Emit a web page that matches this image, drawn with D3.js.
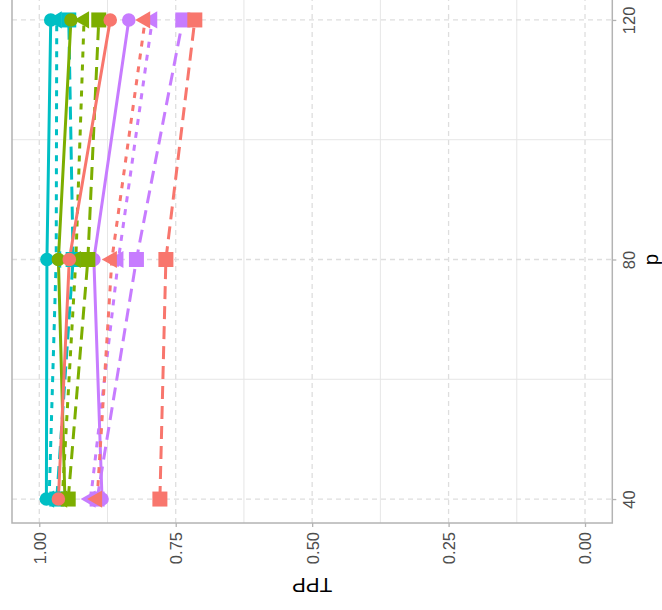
<!DOCTYPE html>
<html>
<head>
<meta charset="utf-8">
<script src="https://cdn.jsdelivr.net/npm/d3@7"></script>
<style>
  html, body { margin: 0; padding: 0; background: #fff; }
  svg { display: block; }
</style>
</head>
<body>
<svg id="chart" width="662" height="610"></svg>
<script>
// ---------------- data ----------------
const pValues = [40, 80, 120];
const tppTicks = [1.00, 0.75, 0.50, 0.25, 0.00];
const tppMinor = [0.875, 0.625, 0.375, 0.125];
const pTicks = [40, 80, 120];
const pMinor = [60, 100];

const methods = ["M1", "M2", "M3", "M4"];           // red, green, cyan, purple
const methodColors = ["#F8766D", "#7CAE00", "#00BFC4", "#C77CFF"];
const settings = ["S1", "S2", "S3"];                 // circle/solid, triangle/dotted, square/dashed

// TPP values at p = 40, 80, 120
const tppM1_S1 = [0.965, 0.945, 0.870];
const tppM1_S2 = [0.894, 0.867, 0.806];
const tppM1_S3 = [0.779, 0.768, 0.715];
const tppM2_S1 = [0.953, 0.965, 0.942];
const tppM2_S2 = [0.958, 0.933, 0.918];
const tppM2_S3 = [0.947, 0.911, 0.891];
const tppM3_S1 = [0.987, 0.986, 0.979];
const tppM3_S2 = [0.982, 0.969, 0.968];
const tppM3_S3 = [0.968, 0.938, 0.946];
const tppM4_S1 = [0.885, 0.900, 0.836];
const tppM4_S2 = [0.906, 0.855, 0.793];
const tppM4_S3 = [0.894, 0.822, 0.737];

const tppTable = {
  M1: [tppM1_S1, tppM1_S2, tppM1_S3],
  M2: [tppM2_S1, tppM2_S2, tppM2_S3],
  M3: [tppM3_S1, tppM3_S2, tppM3_S3],
  M4: [tppM4_S1, tppM4_S2, tppM4_S3]
};

// ---------------- build ----------------
const svg = d3.select("#chart");
const FONT = "'Liberation Sans', Arial, Helvetica, sans-serif";

// chart is a ggplot rotated 90deg counter-clockwise: TPP runs horizontally, p vertically
const x = d3.scaleLinear().domain([1.05, -0.05]).range([12, 612.3]);
const y = d3.scaleLinear().domain([36, 124]).range([523, -4]);

const panel = { x0: 12, x1: 612.3, y0: -4, y1: 523 };

svg.append("defs").append("clipPath").attr("id", "clip")
  .append("rect")
  .attr("x", panel.x0).attr("y", panel.y0)
  .attr("width", panel.x1 - panel.x0).attr("height", panel.y1 - panel.y0);

const grid = svg.append("g");
// minor grid (solid)
grid.selectAll(".minx").data(tppMinor).join("line")
  .attr("x1", d => x(d)).attr("x2", d => x(d))
  .attr("y1", panel.y0).attr("y2", panel.y1)
  .attr("stroke", "#E6E6E6").attr("stroke-width", 1);
grid.selectAll(".miny").data(pMinor).join("line")
  .attr("y1", d => y(d)).attr("y2", d => y(d))
  .attr("x1", panel.x0).attr("x2", panel.x1)
  .attr("stroke", "#E6E6E6").attr("stroke-width", 1);
// major grid (dashed)
grid.selectAll(".majx").data(tppTicks).join("line")
  .attr("x1", d => x(d)).attr("x2", d => x(d))
  .attr("y1", panel.y0).attr("y2", panel.y1)
  .attr("stroke", "#DEDEDE").attr("stroke-width", 1.3)
  .attr("stroke-dasharray", "5,4");
grid.selectAll(".majy").data(pTicks).join("line")
  .attr("y1", d => y(d)).attr("y2", d => y(d))
  .attr("x1", panel.x0).attr("x2", panel.x1)
  .attr("stroke", "#DEDEDE").attr("stroke-width", 1.3)
  .attr("stroke-dasharray", "5,4");

// series
const dashes = [null, "6,7", "13,7"];
const series = [];
methods.forEach((m, mi) => {
  settings.forEach((s, si) => {
    series.push({
      method: m, setting: s, mi, si,
      color: methodColors[mi],
      values: pValues.map((p, k) => ({ p, tpp: tppTable[m][si][k] }))
    });
  });
});
// drawing order: colours reversed (purple, cyan, green, red)
const ordered = series.slice().sort((a, b) => (b.mi - a.mi) || (a.si - b.si));

const plot = svg.append("g").attr("clip-path", "url(#clip)");
const line = d3.line().x(d => x(d.tpp)).y(d => y(d.p));

plot.selectAll(".series-line").data(ordered).join("path")
  .attr("class", "series-line")
  .attr("d", d => line(d.values))
  .attr("fill", "none")
  .attr("stroke", d => d.color)
  .attr("stroke-width", 3)
  .attr("stroke-dasharray", d => dashes[d.si]);

function markerPath(si, cx, cy) {
  if (si === 0) {
    const r = 6.8;
    return `M${cx - r},${cy}a${r},${r} 0 1,0 ${2 * r},0a${r},${r} 0 1,0 ${-2 * r},0Z`;
  } else if (si === 1) {
    // triangle (pointing up in the unrotated chart -> left here)
    return `M${cx - 10},${cy}L${cx + 5},${cy - 8.6}L${cx + 5},${cy + 8.6}Z`;
  } else {
    const h = 7.5;
    return `M${cx - h},${cy - h}H${cx + h}V${cy + h}H${cx - h}Z`;
  }
}

ordered.forEach(s => {
  plot.append("g").selectAll("path").data(s.values).join("path")
    .attr("d", d => markerPath(s.si, x(d.tpp), y(d.p)))
    .attr("fill", s.color);
});

// panel border
svg.append("rect")
  .attr("x", panel.x0).attr("y", panel.y0)
  .attr("width", panel.x1 - panel.x0).attr("height", panel.y1 - panel.y0)
  .attr("fill", "none").attr("stroke", "#B3B3B3").attr("stroke-width", 1.5);

// bottom axis (TPP)
const axB = svg.append("g").attr("transform", `translate(0,${panel.y1})`)
  .call(d3.axisBottom(x).tickValues(tppTicks).tickFormat(d3.format(".2f")).tickSize(4));
axB.select(".domain").remove();
axB.selectAll(".tick line").attr("stroke", "#B3B3B3").attr("stroke-width", 1.3);
axB.selectAll(".tick text")
  .attr("transform", "rotate(-90)")
  .attr("x", -9).attr("y", 0).attr("dy", "0.36em")
  .attr("text-anchor", "end")
  .attr("fill", "#4D4D4D")
  .style("font-family", FONT).style("font-size", "16.5px");

// right axis (p)
const axR = svg.append("g").attr("transform", `translate(${panel.x1},0)`)
  .call(d3.axisRight(y).tickValues(pTicks).tickFormat(d3.format("d")).tickSize(4));
axR.select(".domain").remove();
axR.selectAll(".tick line").attr("stroke", "#B3B3B3").attr("stroke-width", 1.3);
axR.selectAll(".tick text")
  .attr("transform", "rotate(-90)")
  .attr("x", 0).attr("y", 22.7).attr("dy", 0)
  .attr("text-anchor", "middle")
  .attr("fill", "#4D4D4D")
  .style("font-family", FONT).style("font-size", "16.5px");

// axis titles
svg.append("text")
  .attr("transform", `translate(${(panel.x0 + panel.x1) / 2},578) rotate(180)`)
  .attr("text-anchor", "middle")
  .style("font-family", FONT).style("font-size", "20.6px")
  .attr("fill", "#000")
  .text("TPP");

svg.append("text")
  .attr("transform", `translate(658,${(panel.y0 + panel.y1) / 2}) rotate(-90)`)
  .attr("text-anchor", "middle")
  .style("font-family", FONT).style("font-size", "20.6px")
  .attr("fill", "#000")
  .text("p");
</script>
</body>
</html>
